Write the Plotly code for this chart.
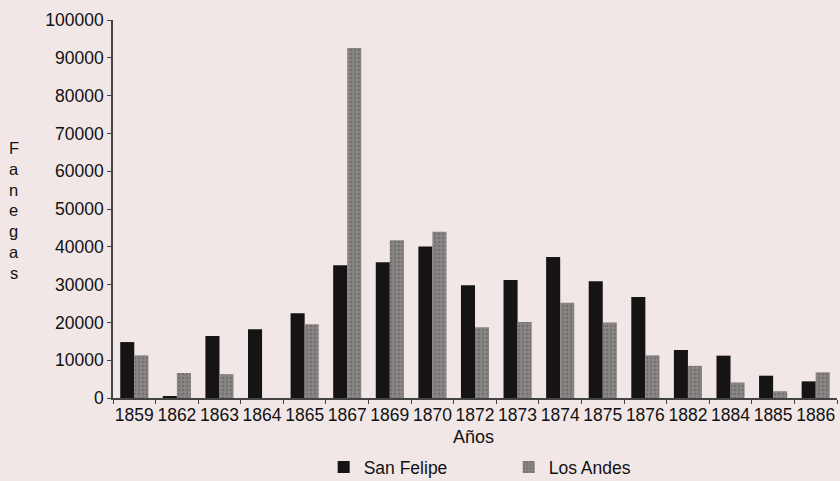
import plotly.graph_objects as go

years = ["1859", "1862", "1863", "1864", "1865", "1867", "1869", "1870", "1872",
         "1873", "1874", "1875", "1876", "1882", "1884", "1885", "1886"]
san_felipe = [14800, 300, 16400, 18200, 22400, 35100, 35900, 40100, 29800,
              31200, 37300, 30900, 26700, 12700, 11200, 5900, 4400]
los_andes = [11300, 6600, 6300, 0, 19500, 92600, 41700, 44000, 18700,
             20100, 25200, 20000, 11300, 8500, 4100, 1800, 6800]
y_ticks = [0, 10000, 20000, 30000, 40000, 50000, 60000, 70000, 80000, 90000, 100000]
y_title = "Fanegas"
x_title = "Años"

bg = "#f2e7e7"
font = "Liberation Sans, Arial, sans-serif"

fig = go.Figure()
fig.add_trace(go.Bar(x=years, y=san_felipe, name="San Felipe",
                     marker=dict(color="#151313", line=dict(width=0))))
fig.add_trace(go.Bar(x=years, y=los_andes, name="Los Andes",
                     marker=dict(color="#7b7676", line=dict(width=0),
                                 pattern=dict(shape=".", fgcolor="#5a5555", bgcolor="#8a8585",
                                              size=4, solidity=0.3))))

fig.update_layout(
    width=840, height=481,
    paper_bgcolor=bg, plot_bgcolor=bg,
    margin=dict(l=113, r=3, t=20, b=83, autoexpand=False),
    barmode="group", bargap=0.34, bargroupgap=0,
    font=dict(family=font, size=17, color="#111"),
    showlegend=True,
    legend=dict(orientation="h", x=0.291, y=0.029, xref="paper", yref="container",
                xanchor="left", yanchor="middle",
                font=dict(size=17.5, color="#111"), entrywidth=140,
                bgcolor="rgba(0,0,0,0)"),
    xaxis=dict(type="category", showline=True, linecolor="#444", linewidth=1.5,
               ticks="outside", tickson="boundaries", ticklen=4, tickcolor="#444",
               tickangle=0, tickfont=dict(size=17.5, color="#111"),
               showgrid=False, zeroline=False, automargin=False),
    yaxis=dict(range=[0, 100000], tickvals=y_ticks, ticktext=[str(v) for v in y_ticks],
               showline=True, linecolor="#444", linewidth=1.5, ticks="outside",
               ticklen=4, tickcolor="#444", showgrid=False, zeroline=False,
               automargin=False, tickfont=dict(size=17.5, color="#111")),
)

# stacked vertical axis title
for i, ch in enumerate(y_title):
    fig.add_annotation(text=ch, xref="paper", yref="paper",
                       x=-0.137, y=(398 - 148 - i * 20.8) / 378,
                       showarrow=False, xanchor="center", yanchor="middle",
                       font=dict(size=16.5, color="#111"))

fig.add_annotation(text=x_title, xref="paper", yref="paper", x=0.498, y=-0.103,
                   showarrow=False, xanchor="center", yanchor="middle",
                   font=dict(size=18, color="#111"))

fig.write_html("out.html", config={"displayModeBar": False},
               post_script="document.body.style.margin='0';")
